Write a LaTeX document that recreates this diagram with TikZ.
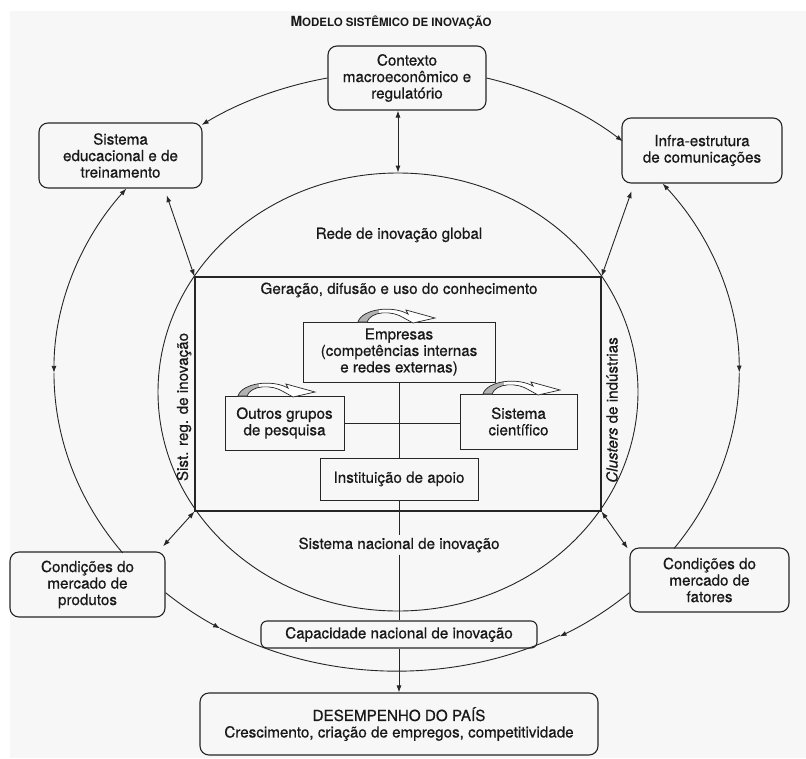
\documentclass[tikz,border=0pt]{standalone}
\usepackage{fontspec}
\setmainfont{TeX Gyre Heros}[UprightFeatures = {FakeBold = 0.6}, ItalicFeatures = {FakeBold = 0.6}]
\usetikzlibrary{arrows.meta, shapes.geometric}

\begin{document}
\begin{tikzpicture}[x = 1pt, y = -1pt, > = {Latex[length = 7pt, width = 5pt]},
	font = \fontsize{15.2}{16.5}\selectfont, text = black!90,
	outerbox/.style = {draw = black!85, line width = 1.1pt, rounded corners = 9pt, align = center, inner sep = 0pt},
	innerbox/.style = {draw = black!85, line width = 0.9pt, align = center, inner sep = 0pt},
	link/.style = {draw = black!85, line width = 0.9pt},
	outerarc/.style = {x radius = 343pt, y radius = 300pt},
	curl/.style = {draw = black!85, line width = 0.7pt, fill = white,
		path picture = {\fill [gray!60] (path picture bounding box.south west) rectangle ([xshift = 21pt] path picture bounding box.north west);}}]

	% Page of the scan

	\fill [gray!6] (10, 11) rectangle (806, 758);
	\useasboundingbox (0, 0) rectangle (806, 758);

	\node (title) at (391, 23) {\bfseries\fontsize{14}{14}\selectfont M\fontsize{11.5}{11.5}\selectfont ODELO SISTÊMICO DE INOVAÇÃO};

	% Boxes around the national system

	\node [outerbox, minimum width = 158pt, minimum height = 64pt] (ctx) at (407, 78) {Contexto\\macroeconômico e\\regulatório};
	\node [outerbox, minimum width = 163pt, minimum height = 65pt] (edu) at (120.5, 155.5) {Sistema\\educacional e de\\treinamento};
	\node [outerbox, minimum width = 160pt, minimum height = 65pt] (infra) at (702, 150.5) {Infra-estrutura\\de comunicações};
	\node [outerbox, minimum width = 155pt, minimum height = 65pt] (prod) at (87.5, 584.5) {Condições do\\mercado de\\produtos};
	\node [outerbox, minimum width = 159pt, minimum height = 64pt] (fat) at (709.5, 580) {Condições do\\mercado de\\fatores};
	\node [outerbox, rounded corners = 6pt, minimum width = 276pt, minimum height = 27pt] (cap) at (399, 634.5) {Capacidade nacional de inovação};
	\node [outerbox, minimum width = 398pt, minimum height = 62pt] (des) at (399, 724) {DESEMPENHO DO PAÍS\\Crescimento, criação de empregos, competitividade};

	% National system and knowledge frame

	\node [draw = black!85, line width = 0.9pt, ellipse, minimum width = 480pt, minimum height = 438pt, inner sep = 0pt] (sni) at (398, 392) {};
	\node [draw = black!85, line width = 1.1pt, minimum width = 406pt, minimum height = 234pt, inner sep = 0pt] (knw) at (398, 394) {};

	\node (rede) at (399, 235) {Rede de inovação global};
	\node (ger) at (399, 290) {Geração, difusão e uso do conhecimento};
	\node [rotate = 90] (reg) at (184, 407) {Sist. reg. de inovação};
	\node [rotate = 90] (clu) at (612, 410) {\textit{Clusters} de indústrias};
	\node [inner sep = 2pt] (snac) at (399, 545) {Sistema nacional de inovação};

	% Actors inside the frame

	\node [innerbox, minimum width = 192pt, minimum height = 60pt] (emp) at (399, 352) {Empresas\\(competências internas\\e redes externas)};
	\node [innerbox, minimum width = 119pt, minimum height = 54pt] (out) at (284.5, 423) {Outros grupos\\de pesquisa};
	\node [innerbox, minimum width = 117pt, minimum height = 55pt] (sci) at (518.5, 421.5) {Sistema\\científico};
	\node [innerbox, minimum width = 158pt, minimum height = 42pt] (inst) at (399, 479) {Instituição de apoio};

	\draw [link] (emp.south) -- (inst.north);
	\draw [link] (out.east) -- (out.east -| sci.west);
	\draw [link] (inst.south) -- (snac.north);
	\draw [link] (snac.south) -- (cap.north);
	\draw [link, ->] (cap.south) -- (des.north);

	% Feedback loops above the actors

	\foreach \cx/\cy in {358/322, 238/396, 483/394}
		\draw [curl, shift = {(\cx, \cy)}] (0, 0) .. controls (4, -13) and (34, -17) .. (50, -8) -- (48, -12) -- (77, -4) -- (55, 1) -- (46, -4)
			.. controls (34, -12) and (13, -11) .. (9, 0) -- cycle;

	% Links between the frame and the boxes

	\draw [link, <->] (ctx.south -| sni.north) -- (sni.north);
	\draw [link, <->, shorten >= 7pt] (knw.north west) -- (edu.-37);
	\draw [link, <->, shorten >= 8pt] (knw.north east) -- (infra.206);
	\draw [link, <->, shorten >= 7pt] (knw.south west) -- (prod.25);
	\draw [link, <->, shorten >= 3pt] (knw.south east) -- (fat.160);

	% Outer ring of influences

	\draw [link, ->] (ctx.west) arc [outerarc, start angle = 101.6, end angle = 124.6];
	\draw [link, ->] (ctx.east) arc [outerarc, start angle = 75, end angle = 49];
	\draw [link, <->] (edu.-80) arc [outerarc, start angle = 142.1, end angle = 180] coordinate (westmid);
	\draw [link] (westmid) arc [outerarc, start angle = 180, end angle = 216.9];
	\draw [link, <->] (infra.220) arc [outerarc, start angle = 39.05, end angle = 0] coordinate (eastmid);
	\draw [link] (eastmid) arc [outerarc, start angle = 0, end angle = -35.9];
	\draw [link, ->] (prod.-6) arc [outerarc, start angle = 227.6, end angle = 239] coordinate (lowwest);
	\draw [link] (lowwest) arc [outerarc, start angle = 239, end angle = 298.4];
	\draw [link, ->] (fat.189) arc [outerarc, start angle = 312.8, end angle = 298.4];

\end{tikzpicture}
\end{document}
